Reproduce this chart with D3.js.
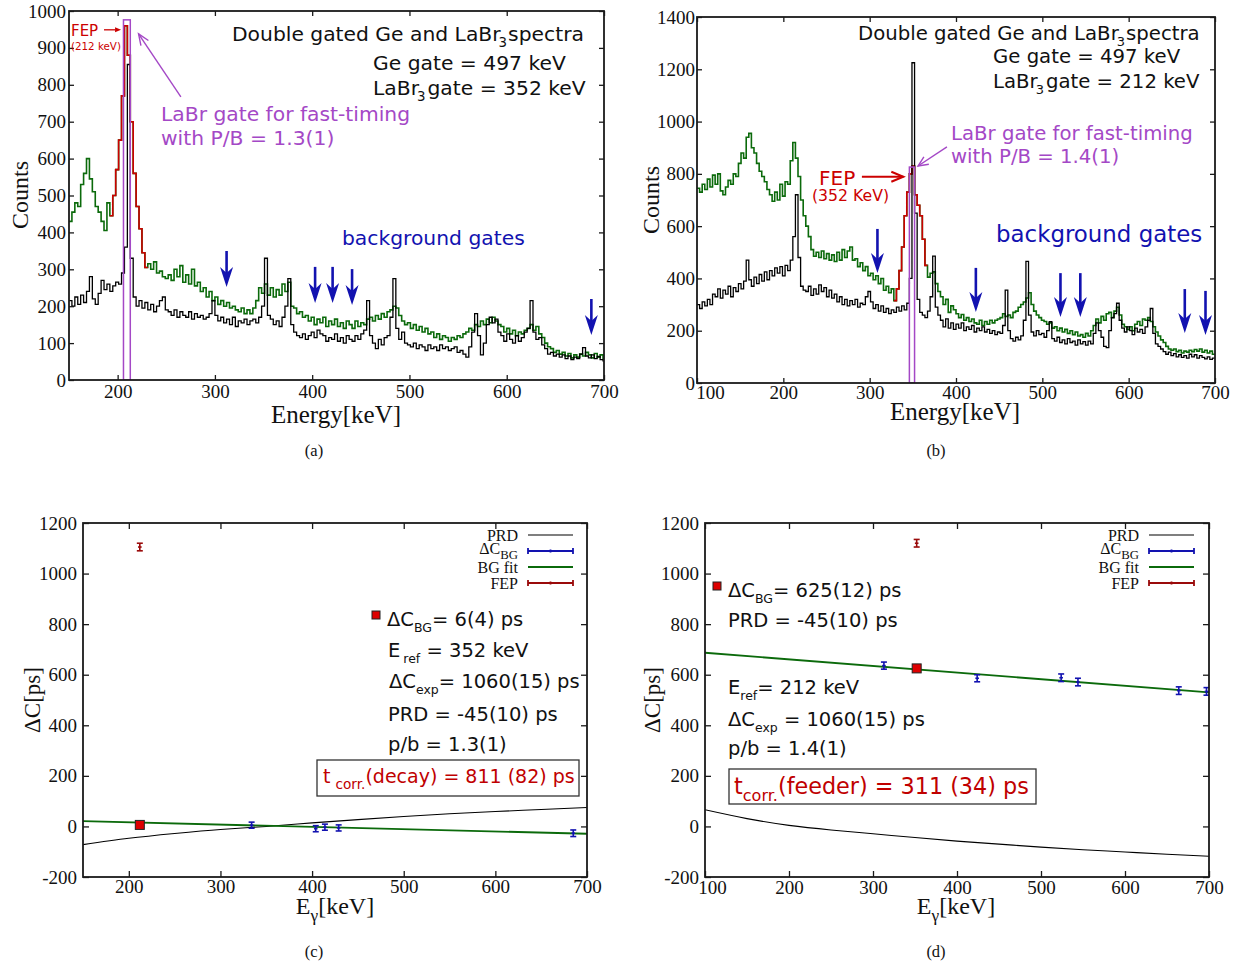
<!DOCTYPE html>
<html>
<head>
<meta charset="utf-8">
<title>Double gated Ge and LaBr3 spectra and centroid differences</title>
<script src="https://cdn.jsdelivr.net/npm/d3@7/dist/d3.min.js"></script>
<style>
  html, body { margin: 0; padding: 0; background: #fff; }
  svg { display: block; }
</style>
</head>
<body>
<svg id="fig" width="1242" height="967"></svg>
<script>
// ---------- (a) spectra: Ge gate 497 keV, LaBr3 gate 352 keV (3 keV bins from 150 keV)
const binA = 3, startA = 150;
const labrCountsA = [
  430, 455, 480, 470, 530, 560, 600, 545, 510, 470,
  455, 430, 405, 480, 445, 500, 570, 650, 770, 960,
  880, 700, 560, 470, 410, 345, 305, 315, 300, 320,
  290, 295, 280, 275, 285, 270, 300, 280, 310, 265,
  285, 260, 300, 255, 265, 240, 250, 225, 240, 215,
  225, 205, 215, 200, 210, 195, 200, 190, 185, 195,
  180, 190, 180, 195, 215, 250, 235, 260, 230, 250,
  225, 245, 230, 260, 240, 265, 200, 195, 180, 185,
  170, 175, 160, 170, 150, 165, 155, 170, 145, 160,
  150, 165, 145, 155, 140, 160, 150, 140, 160, 145,
  155, 150, 165, 170, 160, 175, 165, 180, 170, 185,
  190, 200, 195, 175, 160, 150, 155, 140, 150, 135,
  145, 130, 140, 125, 130, 115, 125, 110, 120, 115,
  105, 115, 110, 120, 115, 125, 130, 140, 135, 150,
  145, 160, 150, 165, 155, 170, 160, 150, 145, 130,
  140, 125, 135, 120, 130, 125, 135, 140, 150, 135,
  145, 125, 115, 100, 90, 85, 75, 80, 70, 75,
  65, 72, 60, 68, 62, 70, 65, 75, 68, 60,
  72, 62, 68, 58
];
const geCountsA = [
  215, 200, 225, 205, 230, 210, 240, 280, 220, 205,
  235, 270, 245, 260, 240, 255, 265, 260, 290, 360,
  855, 330, 225, 200, 215, 195, 210, 190, 205, 185,
  200, 215, 225, 190, 185, 175, 190, 170, 185, 175,
  170, 185, 165, 180, 170, 175, 165, 170, 180, 215,
  175, 160, 170, 155, 165, 150, 170, 145, 160, 155,
  165, 150, 160, 165, 155, 170, 200, 330, 175, 165,
  150, 160, 145, 170, 200, 275, 150, 130, 120, 115,
  125, 110, 120, 130, 115, 135, 125, 120, 105, 115,
  110, 125, 105, 115, 100, 120, 110, 105, 120, 110,
  125, 135, 215, 120, 100, 85, 110, 95, 115, 120,
  170, 275, 140, 110, 130, 100, 95, 90, 100, 85,
  95, 90, 80, 95, 85, 90, 80, 95, 85, 90,
  80, 85, 90, 75, 80, 70, 62, 90, 130, 180,
  120, 68, 100, 150, 170, 155, 165, 130, 120, 105,
  125, 110, 100, 120, 105, 115, 130, 140, 215, 130,
  110, 115, 95, 85, 70, 75, 65, 70, 62, 68,
  58, 65, 55, 62, 58, 70, 88, 65, 60, 68,
  58, 64, 55, 52
];
const fepRangeA = [192, 231];
const gateA = [206, 213];
const gateTopA = 976;
const bgGatesA = [312, 403, 421, 441, 687];
const bgTipsA = [252, 209, 209, 203, 122];
const energyTicksA = [200, 300, 400, 500, 600, 700];
const countTicksA = [0, 100, 200, 300, 400, 500, 600, 700, 800, 900, 1000];

// ---------- (b) spectra: Ge gate 497 keV, LaBr3 gate 212 keV (3 keV bins from 100 keV)
const binB = 3, startB = 100;
const labrCountsB = [
  745, 730, 760, 740, 780, 750, 795, 760, 800, 735,
  720, 750, 775, 760, 800, 790, 840, 880, 860, 940,
  955, 900, 880, 840, 810, 790, 770, 740, 720, 695,
  730, 700, 760, 715, 770, 760, 850, 920, 860, 790,
  700, 640, 600, 560, 510, 485, 500, 480, 505, 475,
  495, 470, 490, 465, 500, 470, 510, 480, 505, 520,
  470, 475, 445, 460, 430, 445, 410, 420, 395, 410,
  380, 400, 355, 370, 345, 360, 315, 360, 430, 520,
  640, 730, 800, 830, 720, 680, 640, 550, 450, 405,
  420, 425, 380, 350, 330, 300, 320, 270, 295, 280,
  265, 250, 262, 240, 250, 235, 245, 230, 225, 240,
  220, 235, 225, 240, 230, 240, 245, 250, 265, 255,
  260, 250, 270, 275, 290, 300, 310, 325, 345, 300,
  275, 260, 250, 240, 235, 225, 230, 210, 215, 200,
  210, 195, 205, 190, 200, 185, 195, 180, 185, 175,
  190, 180, 200, 220, 245, 230, 255, 240, 265, 270,
  250, 275, 290, 260, 225, 215, 205, 215, 200, 225,
  235, 220, 245, 240, 250, 235, 215, 195, 180, 165,
  155, 140, 130, 125, 130, 120, 125, 115, 122, 118,
  125, 120, 128, 122, 130, 118, 125, 115, 122, 110
];
const geCountsB = [
  300, 285, 310, 295, 320, 300, 340, 330, 360, 325,
  355, 340, 370, 330, 365, 350, 380, 360, 390, 470,
  395, 370, 405, 380, 415, 390, 425, 395, 430, 410,
  440, 420, 445, 410, 450, 430, 470, 560, 720, 480,
  370, 355, 350, 370, 335, 360, 340, 375, 350, 365,
  330, 355, 325, 340, 310, 330, 300, 320, 295, 315,
  300, 320, 290, 305, 300, 330, 350, 310, 285, 300,
  275, 295, 270, 285, 265, 280, 270, 290, 275, 295,
  280, 305, 400, 1225, 650, 320, 270, 260, 250, 275,
  330, 485, 290, 260, 240, 215, 245, 210, 230, 205,
  225, 210, 230, 200, 215, 205, 220, 195, 210, 200,
  215, 195, 205, 190, 200, 185, 195, 190, 220, 355,
  200, 170, 160, 175, 165, 180, 240, 465, 260, 195,
  180, 200, 185, 190, 175, 200, 235, 170, 160, 175,
  155, 165, 150, 170, 155, 160, 145, 165, 150, 158,
  145, 160, 150, 190, 230, 200, 175, 140, 135, 200,
  250, 265, 305, 240, 210, 195, 215, 200, 185, 210,
  195, 205, 190, 215, 240, 285, 190, 150, 140, 130,
  120, 110, 118, 105, 112, 100, 108, 98, 105, 95,
  110, 100, 108, 95, 105, 98, 92, 100, 90, 95
];
const fepRangeB = [328, 367];
const gateB = [346, 352];
const gateTopB = 826;
const bgGatesB = [309, 423, 521, 544, 665, 689];
const bgTipsB = [421, 272, 252, 252, 191, 184];
const energyTicksB = [100, 200, 300, 400, 500, 600, 700];
const countTicksB = [0, 200, 400, 600, 800, 1000, 1200, 1400];

// ---------- (c) centroid differences, reference 352 keV
const prdEnergyC = [150, 200, 250, 300, 350, 400, 450, 500, 550, 600, 650, 700];
const prdC = [-72, -47, -28, -12, 0, 14, 27, 39, 50, 59, 67, 75];
const bgEnergyC = [334, 404, 414, 429, 685];
const bgDeltaC = [5, -9, -3, -6, -27];
const bgErrC = [12, 12, 12, 12, 13];
const fitEnergyC = [150, 700];
const fitC = [21, -29];
const fepEnergyC = [212];
const fepDeltaC = [1105];
const fepErrC = [15];
const bgAtFepEnergyC = 212;
const bgAtFepC = 6;
const energyTicksC = [200, 300, 400, 500, 600, 700];

// ---------- (d) centroid differences, reference 212 keV
const prdEnergyD = [100, 150, 200, 250, 300, 350, 400, 450, 500, 550, 600, 650, 700];
const prdD = [66, 31, 4, -14, -29, -44, -58, -70, -82, -92, -101, -110, -118];
const bgEnergyD = [313, 424, 524, 544, 664, 697];
const bgDeltaD = [636, 586, 588, 571, 537, 534];
const bgErrD = [14, 14, 15, 15, 15, 15];
const fitEnergyD = [100, 700];
const fitD = [687, 530];
const fepEnergyD = [352];
const fepDeltaD = [1120];
const fepErrD = [15];
const bgAtFepEnergyD = 352;
const bgAtFepD = 625;
const energyTicksD = [100, 200, 300, 400, 500, 600, 700];
const deltaTicks = [-200, 0, 200, 400, 600, 800, 1000, 1200];

// ---------- styling
const SERIF = "'Liberation Serif','Times New Roman',serif";
const SANS = "'DejaVu Sans',Verdana,sans-serif";
const GREEN = "#0b6a0b", RED = "#cc0000", DARKRED = "#9a0a0a", BLUE = "#1212b0",
      PURPLE = "#a448c6", INK = "#1a1a1a";

const svg = d3.select("#fig");
const defs = svg.append("defs");
const fmt = d => String(d);

function scales(o) {
  return {
    x: d3.scaleLinear().domain(o.xDomain).range([o.left, o.right]),
    y: d3.scaleLinear().domain(o.yDomain).range([o.bottom, o.top])
  };
}

function clipGroup(id, o) {
  defs.append("clipPath").attr("id", id).append("rect")
    .attr("x", o.left).attr("y", o.top)
    .attr("width", o.right - o.left).attr("height", o.bottom - o.top);
  return svg.append("g").attr("clip-path", `url(#${id})`);
}

function frame(x, y, o) {
  const g = svg.append("g");
  const [l, r] = x.range(), [b, t] = y.range();
  const bottomAxis = g.append("g").attr("transform", `translate(0,${b})`)
    .call(d3.axisBottom(x).tickValues(o.xTicks).tickSize(-o.tick).tickPadding(o.xPad).tickFormat(fmt));
  const leftAxis = g.append("g").attr("transform", `translate(${l},0)`)
    .call(d3.axisLeft(y).tickValues(o.yTicks).tickSize(-o.tick).tickPadding(o.yPad).tickFormat(fmt));
  g.append("g").attr("transform", `translate(0,${t})`)
    .call(d3.axisTop(x).tickValues(o.xTicks).tickSize(-o.tick).tickFormat(""));
  g.append("g").attr("transform", `translate(${r},0)`)
    .call(d3.axisRight(y).tickValues(o.yTicks).tickSize(-o.tick).tickFormat(""));
  g.selectAll(".domain").remove();
  g.selectAll(".tick line").attr("stroke", INK).attr("stroke-width", 1.3);
  g.selectAll(".tick text").attr("fill", "#111")
    .attr("font-family", SERIF).attr("font-size", 19);
  if (o.firstShift) bottomAxis.select(".tick text").attr("dx", o.firstShift);
  g.append("rect").attr("x", l).attr("y", t).attr("width", r - l).attr("height", b - t)
    .attr("fill", "none").attr("stroke", INK).attr("stroke-width", 1.8);
  return g;
}

// text with sub-scripted pieces
function rich(g, x, y, parts, o) {
  const t = g.append("text").attr("x", x).attr("y", y)
    .attr("font-family", o.family).attr("font-size", o.size)
    .attr("fill", o.fill || "#111").style("white-space", "pre");
  if (o.anchor) t.attr("text-anchor", o.anchor);
  let shift = 0;
  parts.forEach(p => {
    const s = typeof p === "string" ? { t: p } : p;
    const ts = t.append("tspan").text(s.t);
    const target = s.sub ? o.size * 0.3 : 0;
    if (target !== shift) { ts.attr("dy", target - shift); shift = target; }
    if (s.sub) ts.attr("font-size", o.size * (o.subScale || 0.72));
    if (s.dx) ts.attr("dx", s.dx);
  });
  return t;
}

function vtext(g, x, y, str, size) {
  g.append("text").attr("transform", `translate(${x},${y}) rotate(-90)`)
    .attr("text-anchor", "middle").attr("dominant-baseline", "central")
    .attr("font-family", SERIF).attr("font-size", size).attr("fill", "#111").text(str);
}

function arrow(g, x1, y1, x2, y2, color, w, len, half, filled) {
  const a = Math.atan2(y2 - y1, x2 - x1);
  const bx = x2 - len * Math.cos(a), by = y2 - len * Math.sin(a);
  const px = -Math.sin(a) * half, py = Math.cos(a) * half;
  g.append("line").attr("x1", x1).attr("y1", y1)
    .attr("x2", filled ? bx : x2).attr("y2", filled ? by : y2)
    .attr("stroke", color).attr("stroke-width", w);
  const d = `M${bx + px},${by + py} L${x2},${y2} L${bx - px},${by - py}`;
  if (filled) g.append("path").attr("d", d + "Z").attr("fill", color);
  else g.append("path").attr("d", d).attr("fill", "none").attr("stroke", color)
    .attr("stroke-width", w).attr("stroke-linejoin", "miter");
}

function stepData(start, bin, counts, lo, hi) {
  const pts = [];
  counts.forEach((c, i) => {
    const e = start + i * bin;
    if (lo === undefined || (e >= lo && e < hi)) pts.push([e, c]);
  });
  const last = pts[pts.length - 1];
  pts.push([last[0] + bin, last[1]]);
  return pts;
}

function bgArrows(g, x, y, energies, tips, len) {
  const grp = g.append("g").attr("fill", BLUE);
  energies.forEach((e, i) => {
    const cx = x(e), ty = y(tips[i]);
    grp.append("line").attr("x1", cx).attr("x2", cx).attr("y1", ty - len).attr("y2", ty - 12)
      .attr("stroke", BLUE).attr("stroke-width", 2.6);
    grp.append("path")
      .attr("d", `M${cx},${ty} L${cx - 6.5},${ty - 20} L${cx},${ty - 14} L${cx + 6.5},${ty - 20}Z`);
  });
}

// ---------- spectrum panels
function spectrumPanel(o) {
  const { x, y } = scales(o);
  const plot = clipGroup(o.id, o);
  const line = d3.line().x(d => x(d[0])).y(d => y(d[1])).curve(d3.curveStepAfter);
  plot.append("path").datum(stepData(o.start, o.bin, o.labr))
    .attr("d", line).attr("fill", "none").attr("stroke", GREEN).attr("stroke-width", 1.6);
  plot.append("path").datum(stepData(o.start, o.bin, o.labr, o.fep[0], o.fep[1]))
    .attr("d", line).attr("fill", "none").attr("stroke", RED).attr("stroke-width", 1.6);
  plot.append("path").datum(stepData(o.start, o.bin, o.ge))
    .attr("d", line).attr("fill", "none").attr("stroke", "#000").attr("stroke-width", 1.3);
  plot.append("rect").attr("x", x(o.gate[0])).attr("y", y(o.gateTop))
    .attr("width", x(o.gate[1]) - x(o.gate[0])).attr("height", y(0) - y(o.gateTop))
    .attr("fill", "none").attr("stroke", PURPLE).attr("stroke-width", 1.5);
  bgArrows(svg, x, y, o.bgGates, o.bgTips, o.arrowLen);
  frame(x, y, o);
  return { x, y };
}

const pa = spectrumPanel({
  id: "clipA", left: 69, right: 604, top: 11, bottom: 380,
  xDomain: [150, 700], yDomain: [0, 1000], xTicks: energyTicksA, yTicks: countTicksA,
  tick: 5, xPad: 5, yPad: 3,
  start: startA, bin: binA, labr: labrCountsA, ge: geCountsA, fep: fepRangeA,
  gate: gateA, gateTop: gateTopA, bgGates: bgGatesA, bgTips: bgTipsA, arrowLen: 36
});

const pb = spectrumPanel({
  id: "clipB", left: 697, right: 1215, top: 17, bottom: 383,
  xDomain: [100, 700], yDomain: [0, 1400], xTicks: energyTicksB, yTicks: countTicksB,
  tick: 5, xPad: 2, yPad: 2, firstShift: 13,
  start: startB, bin: binB, labr: labrCountsB, ge: geCountsB, fep: fepRangeB,
  gate: gateB, gateTop: gateTopB, bgGates: bgGatesB, bgTips: bgTipsB, arrowLen: 44
});

// ---------- annotations of the spectra
const ann = svg.append("g");
rich(ann, 232, 41, ["Double gated Ge and LaBr", { t: "3", sub: true, dx: -2 }, { t: "spectra", dx: 1 }], { family: SANS, size: 20.3, subScale: 0.66 });
rich(ann, 373, 70, ["Ge gate = 497 keV"], { family: SANS, size: 20.3 });
rich(ann, 373, 95, ["LaBr", { t: "3", sub: true, dx: -2 }, { t: "gate = 352 keV", dx: 2 }], { family: SANS, size: 20.3, subScale: 0.66 });
rich(ann, 161, 121, ["LaBr gate for fast-timing"], { family: SANS, size: 20.3, fill: PURPLE });
rich(ann, 161, 145, ["with P/B = 1.3(1)"], { family: SANS, size: 20.3, fill: PURPLE });
rich(ann, 342, 245, ["background gates"], { family: SANS, size: 20.3, fill: BLUE });
rich(ann, 71, 36, ["FEP"], { family: SANS, size: 15, fill: RED });
rich(ann, 71, 50, ["(212 keV)"], { family: SANS, size: 10.3, fill: RED });
arrow(ann, pa.x(186), pa.y(949), pa.x(203.5), pa.y(949), RED, 1.3, 6, 2.5, true);
arrow(ann, pa.x(265), pa.y(767), pa.x(221.5), pa.y(938), PURPLE, 1.4, 11, 4.5, false);

rich(ann, 858, 40, ["Double gated Ge and LaBr", { t: "3", sub: true, dx: -2 }, { t: "spectra", dx: 1 }], { family: SANS, size: 19.7, subScale: 0.66 });
rich(ann, 993, 63, ["Ge gate = 497 keV"], { family: SANS, size: 19.7 });
rich(ann, 993, 88, ["LaBr", { t: "3", sub: true, dx: -2 }, { t: "gate = 212 keV", dx: 2 }], { family: SANS, size: 19.7, subScale: 0.66 });
rich(ann, 951, 140, ["LaBr gate for fast-timing"], { family: SANS, size: 19.7, fill: PURPLE });
rich(ann, 951, 163, ["with P/B = 1.4(1)"], { family: SANS, size: 19.7, fill: PURPLE });
rich(ann, 996, 242, ["background gates"], { family: SANS, size: 22.9, fill: BLUE });
rich(ann, 819, 185, ["FEP"], { family: SANS, size: 20, fill: RED });
rich(ann, 812, 201, ["(352 KeV)"], { family: SANS, size: 15.7, fill: RED });
arrow(ann, pb.x(291), pb.y(789), pb.x(339), pb.y(789), RED, 2, 12, 5, false);
arrow(ann, pb.x(389.5), pb.y(903), pb.x(356), pb.y(830), PURPLE, 1.4, 10, 4.5, false);

// ---------- centroid-difference panels
function deltaPanel(o) {
  const { x, y } = scales(o);
  const plot = clipGroup(o.id, o);
  const pts = (E, V) => E.map((e, i) => [e, V[i]]);
  const smooth = d3.line().x(d => x(d[0])).y(d => y(d[1])).curve(d3.curveNatural);
  const straight = d3.line().x(d => x(d[0])).y(d => y(d[1]));
  plot.append("path").datum(pts(o.prdE, o.prd))
    .attr("d", smooth).attr("fill", "none").attr("stroke", "#000").attr("stroke-width", 1.1);
  plot.append("path").datum(pts(o.fitE, o.fit))
    .attr("d", straight).attr("fill", "none").attr("stroke", GREEN).attr("stroke-width", 1.9);
  const bars = (E, V, Err, color) => {
    const g = plot.append("g").attr("stroke", color).attr("stroke-width", 1.6);
    E.forEach((e, i) => {
      const cx = x(e), y1 = y(V[i] - Err[i]), y2 = y(V[i] + Err[i]), ym = y(V[i]);
      g.append("line").attr("x1", cx).attr("x2", cx).attr("y1", y1).attr("y2", y2);
      g.append("line").attr("x1", cx - 3).attr("x2", cx + 3).attr("y1", y1).attr("y2", y1);
      g.append("line").attr("x1", cx - 3).attr("x2", cx + 3).attr("y1", y2).attr("y2", y2);
      g.append("line").attr("x1", cx - 1.8).attr("x2", cx + 1.8).attr("y1", ym).attr("y2", ym);
    });
  };
  bars(o.bgE, o.bg, o.bgErr, BLUE);
  bars(o.fepE, o.fep, o.fepErr, DARKRED);
  plot.append("rect").attr("x", x(o.sqE) - 4.5).attr("y", y(o.sq) - 4.5)
    .attr("width", 9).attr("height", 9).attr("fill", "#dd0000").attr("stroke", "#222").attr("stroke-width", 1);
  frame(x, y, o);

  // legend
  const lg = svg.append("g");
  const rows = [535, 551, 567, 583];
  rich(lg, o.legRight, rows[0] + 5.5, ["PRD"], { family: SERIF, size: 16, anchor: "end" });
  rich(lg, o.legRight, rows[1] + 3, ["ΔC", { t: "BG", sub: true }], { family: SERIF, size: 16, anchor: "end", subScale: 0.8 });
  rich(lg, o.legRight, rows[2] + 5.5, ["BG fit"], { family: SERIF, size: 16, anchor: "end" });
  rich(lg, o.legRight, rows[3] + 5.5, ["FEP"], { family: SERIF, size: 16, anchor: "end" });
  const lx1 = o.legRight + 10, lx2 = o.legRight + 55, lxm = (lx1 + lx2) / 2;
  lg.append("line").attr("x1", lx1).attr("x2", lx2).attr("y1", rows[0]).attr("y2", rows[0])
    .attr("stroke", "#000").attr("stroke-width", 1.1);
  lg.append("line").attr("x1", lx1).attr("x2", lx2).attr("y1", rows[2]).attr("y2", rows[2])
    .attr("stroke", GREEN).attr("stroke-width", 1.9);
  [[rows[1], BLUE], [rows[3], DARKRED]].forEach(([ry, c]) => {
    const s = lg.append("g").attr("stroke", c).attr("stroke-width", 1.8);
    s.append("line").attr("x1", lx1).attr("x2", lx2).attr("y1", ry).attr("y2", ry);
    [lx1, lxm, lx2].forEach((xx, k) => s.append("line").attr("x1", xx).attr("x2", xx)
      .attr("y1", ry - (k === 1 ? 1.5 : 3)).attr("y2", ry + (k === 1 ? 1.5 : 3)));
  });
  return { x, y };
}

const pc = deltaPanel({
  id: "clipC", left: 83, right: 587, top: 523, bottom: 877,
  xDomain: [150, 700], yDomain: [-200, 1200], xTicks: energyTicksC, yTicks: deltaTicks,
  tick: 6, xPad: 2, yPad: 6,
  prdE: prdEnergyC, prd: prdC, fitE: fitEnergyC, fit: fitC,
  bgE: bgEnergyC, bg: bgDeltaC, bgErr: bgErrC,
  fepE: fepEnergyC, fep: fepDeltaC, fepErr: fepErrC,
  sqE: bgAtFepEnergyC, sq: bgAtFepC, legRight: 518
});

const pd = deltaPanel({
  id: "clipD", left: 705, right: 1209, top: 523, bottom: 877,
  xDomain: [100, 700], yDomain: [-200, 1200], xTicks: energyTicksD, yTicks: deltaTicks,
  tick: 6, xPad: 3, yPad: 6, firstShift: 7,
  prdE: prdEnergyD, prd: prdD, fitE: fitEnergyD, fit: fitD,
  bgE: bgEnergyD, bg: bgDeltaD, bgErr: bgErrD,
  fepE: fepEnergyD, fep: fepDeltaD, fepErr: fepErrD,
  sqE: bgAtFepEnergyD, sq: bgAtFepD, legRight: 1139
});

// ---------- result boxes of the centroid-difference panels
const note = svg.append("g");
const marker = (cx, cy) => note.append("rect").attr("x", cx - 4).attr("y", cy - 4).attr("width", 8).attr("height", 8)
  .attr("fill", "#dd0000").attr("stroke", "#222").attr("stroke-width", 1);
const body = { family: SANS, size: 19.5, subScale: 0.64 };

marker(376, 615);
rich(note, 387, 626, ["ΔC", { t: "BG", sub: true }, "= 6(4) ps"], body);
rich(note, 388, 657, ["E", { t: "ref", sub: true, dx: 3 }, " = 352 keV"], body);
rich(note, 389, 688, ["ΔC", { t: "exp", sub: true }, "= 1060(15) ps"], body);
rich(note, 388, 721, ["PRD = -45(10) ps"], body);
rich(note, 388, 751, ["p/b = 1.3(1)"], body);
note.append("rect").attr("x", 317).attr("y", 760).attr("width", 262).attr("height", 36)
  .attr("fill", "none").attr("stroke", "#333").attr("stroke-width", 1.3);
rich(note, 323, 783, ["t", { t: "corr.", sub: true, dx: 5 }, "(decay) = 811 (82) ps"], { family: SANS, size: 19, fill: "#c00000" });

marker(717, 586);
rich(note, 728, 597, ["ΔC", { t: "BG", sub: true }, "= 625(12) ps"], body);
rich(note, 728, 627, ["PRD = -45(10) ps"], body);
rich(note, 728, 694, ["E", { t: "ref", sub: true }, "= 212 keV"], body);
rich(note, 728, 726, ["ΔC", { t: "exp", sub: true }, " = 1060(15) ps"], body);
rich(note, 728, 755, ["p/b = 1.4(1)"], body);
note.append("rect").attr("x", 729).attr("y", 769).attr("width", 307).attr("height", 35)
  .attr("fill", "none").attr("stroke", "#333").attr("stroke-width", 1.3);
rich(note, 734, 794, ["t", { t: "corr.", sub: true }, "(feeder) = 311 (34) ps"], { family: SANS, size: 22.3, fill: "#c00000" });

// ---------- axis titles and captions
const titles = svg.append("g");
vtext(titles, 20, 195, "Counts", 24);
vtext(titles, 651, 200, "Counts", 24);
vtext(titles, 32, 700, "ΔC[ps]", 23);
vtext(titles, 652, 700, "ΔC[ps]", 23);
rich(titles, 336, 423, ["Energy[keV]"], { family: SERIF, size: 25, anchor: "middle" });
rich(titles, 955, 420, ["Energy[keV]"], { family: SERIF, size: 25, anchor: "middle" });
rich(titles, 335, 914, ["E", { t: "γ", sub: true }, "[keV]"], { family: SERIF, size: 24, anchor: "middle" });
rich(titles, 956, 914, ["E", { t: "γ", sub: true }, "[keV]"], { family: SERIF, size: 24, anchor: "middle" });
[["(a)", 314, 456], ["(b)", 936, 456], ["(c)", 314, 957], ["(d)", 936, 957]].forEach(([s, cx, cy]) =>
  rich(titles, cx, cy, [s], { family: SERIF, size: 16.5, anchor: "middle" }));
</script>
</body>
</html>
